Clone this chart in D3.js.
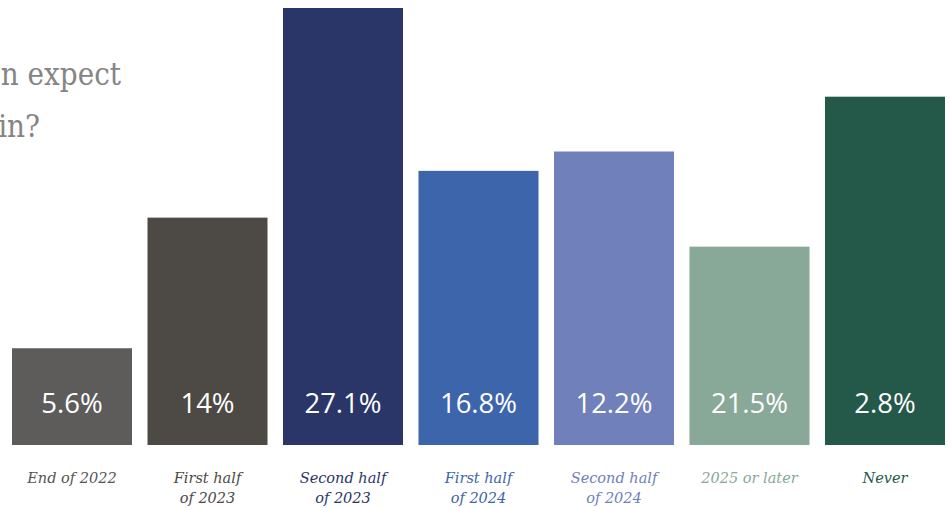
<!DOCTYPE html>
<html>
<head>
<meta charset="utf-8">
<script src="https://cdn.jsdelivr.net/npm/d3@7"></script>
<style>
  body { margin: 0; background: #fff; overflow: hidden; }
  svg { display: block; }
</style>
</head>
<body>
<svg width="949" height="508"></svg>
<script>
// data
const categories = ['End of 2022', 'First half of 2023', 'Second half of 2023', 'First half of 2024',
  'Second half of 2024', '2025 or later', 'Never'];
const catLines = [['End of 2022'], ['First half', 'of 2023'], ['Second half', 'of 2023'],
  ['First half', 'of 2024'], ['Second half', 'of 2024'], ['2025 or later'], ['Never']];
// bar heights as drawn (the drawn heights don't follow the printed labels)
const heights = [6.0, 14.1, 27.1, 17.0, 18.2, 12.3, 21.6];
const labels = ['5.6%', '14%', '27.1%', '16.8%', '12.2%', '21.5%', '2.8%'];
const colors = ['#5d5c5b', '#4d4945', '#2a3668', '#3d65ab', '#7080bb', '#88a898', '#245848'];
const textColors = ['#555', '#4d4945', '#2a3668', '#3d65ab', '#7080bb', '#88a898', '#245848'];

const svg = d3.select('svg');
svg.selectAll('*').remove();

const x = d3.scaleBand()
    .domain(categories)
    .range([12, 945])
    .paddingInner(15.5 / 135.5)
    .paddingOuter(0);

const y = d3.scaleLinear()
    .domain([0, 27.1])
    .range([445, 8]);

// title, cut off at the left edge
const title = svg.append('g')
    .attr('font-family', '"DejaVu Serif Condensed", "DejaVu Serif"')
    .attr('font-stretch', 'condensed')
    .attr('font-size', 31)
    .attr('fill', '#858585')
    .attr('text-anchor', 'end');
title.append('text').attr('x', 121).attr('y', 85).text('n expect');
title.append('text').attr('x', 40).attr('y', 137).text('in?');

svg.append('g')
    .selectAll('rect')
    .data(heights)
    .join('rect')
    .attr('x', (d, i) => x(categories[i]))
    .attr('y', d => y(d))
    .attr('width', x.bandwidth())
    .attr('height', d => y(0) - y(d))
    .attr('fill', (d, i) => colors[i]);

svg.append('g')
    .selectAll('text')
    .data(labels)
    .join('text')
    .attr('x', (d, i) => x(categories[i]) + x.bandwidth() / 2)
    .attr('y', 413)
    .attr('text-anchor', 'middle')
    .attr('font-family', 'Open Sans')
    .attr('font-weight', 400)
    .attr('font-size', 27.5)
    .attr('fill', '#fff')
    .text(d => d);

const cats = svg.append('g')
    .selectAll('text')
    .data(catLines)
    .join('text')
    .attr('x', (d, i) => x(categories[i]) + x.bandwidth() / 2)
    .attr('y', 483)
    .attr('text-anchor', 'middle')
    .attr('font-family', 'DejaVu Serif')
    .attr('font-style', 'italic')
    .attr('font-size', 14.5)
    .attr('fill', (d, i) => textColors[i]);

cats.selectAll('tspan')
    .data(d => d)
    .join('tspan')
    .attr('x', function() { return this.parentNode.getAttribute('x'); })
    .attr('dy', (d, i) => i === 0 ? 0 : 20)
    .text(d => d);
</script>
</body>
</html>
